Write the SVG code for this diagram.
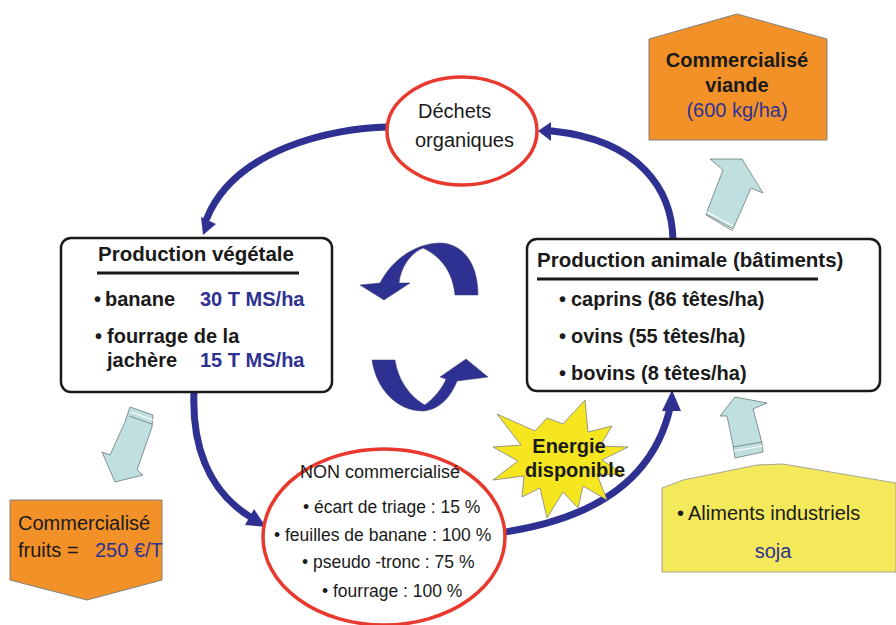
<svg xmlns="http://www.w3.org/2000/svg" width="896" height="625" viewBox="0 0 896 625">
<style>
text{font-family:"Liberation Sans",Arial,sans-serif;fill:#1a1a1a}
.b{font-weight:bold}
.t20{font-size:20px}
.blue{fill:#2e3192}
.box{fill:#fff;stroke:#1a1a1a;stroke-width:2.5}
.ell{fill:#fff;stroke:#e8392e;stroke-width:3.5}
.orange{fill:#f39129;stroke:#808080;stroke-width:1}
.lb{fill:#c0e0df;stroke:#6a7a7a;stroke-width:0.8}
.navy{fill:#2e3192}
.conn{fill:none;stroke:#2e3192;stroke-width:7;stroke-linecap:round}
.nc{font-size:17.5px}
</style>

<g id="connectors">
  <path class="conn" d="M388,127 C330,128 235,150 207,218"/>
  <polygon class="navy" points="203,235 216,224 201,217"/>
  <path class="conn" d="M673,240 C672,190 640,140 552,131"/>
  <polygon class="navy" points="538,131 551,122 551,141"/>
  <path class="conn" d="M194,392 C192,440 205,490 252,518"/>
  <polygon class="navy" points="266,527 245,525 254,509"/>
  <path class="conn" d="M505,532 C570,522 650,495 670,408"/>
  <polygon class="navy" points="672,390 662,411 681,411"/>
</g>

<g id="cycle-arrows">
  <path class="navy" stroke="#3a3a6a" stroke-width="0.5" d="M360,285 L384,300 L410,283 L399,283 C401,266 411,253 423,248 C444,258 453,275 455,295 L478,295 C478,262 462,244 441,243 C417,243 393,258 380,283 Z"/>
  <path class="navy" stroke="#3a3a6a" stroke-width="0.5" d="M372,360 L395,360 C398,380 410,397 425,405 C434,398 442,389 446,379 L440,377 L466,359 L488,377 L457,381 C451,397 439,410 423,411 C396,411 376,388 372,360 Z"/>
</g>

<g id="dechets">
  <ellipse class="ell" cx="462" cy="131" rx="75" ry="54"/>
  <text class="t20" x="418" y="118">Déchets</text>
  <text class="t20" x="415" y="147">organiques</text>
</g>

<g id="vente-viande">
  <polygon class="orange" points="649,39 737,14 827,39 827,140 649,140"/>
  <text class="t20 b" x="737" y="67" text-anchor="middle">Commercialisé</text>
  <text class="t20 b" x="737" y="92" text-anchor="middle">viande</text>
  <text class="t20 blue" x="737" y="117" text-anchor="middle">(600 kg/ha)</text>
</g>

<g id="fleche-viande">
  <polygon class="lb" points="710,159 742,159 763,193 751,188 733,229 706,214 723,170"/>
  <line x1="705" y1="211" x2="733" y2="226" stroke="#fff" stroke-width="1.2"/>
  <line x1="706" y1="215" x2="733" y2="231" stroke="#6a7a7a" stroke-width="0.8"/>
</g>

<g id="production-vegetale">
  <rect class="box" x="61" y="238" width="271" height="154" rx="10"/>
  <text class="t20 b" x="98" y="261" style="font-size:20.5px">Production végétale</text>
  <line x1="97" y1="273" x2="299" y2="273" stroke="#1a1a1a" stroke-width="3"/>
  <text class="t20 b" x="94" y="306">•<tspan x="105">banane</tspan><tspan class="blue" x="200">30 T MS/ha</tspan></text>
  <text class="t20 b" x="95" y="343">•<tspan x="107">fourrage de la</tspan></text>
  <text class="t20 b" x="107" y="367">jachère<tspan class="blue" x="200">15 T MS/ha</tspan></text>
</g>

<g id="production-animale">
  <rect class="box" x="527" y="239" width="353" height="152" rx="10"/>
  <text class="t20 b" x="537" y="267" style="font-size:20.5px">Production animale (bâtiments)</text>
  <line x1="537" y1="279" x2="818" y2="279" stroke="#1a1a1a" stroke-width="3"/>
  <text class="t20 b" x="559" y="306">•<tspan x="571">caprins (86 têtes/ha)</tspan></text>
  <text class="t20 b" x="559" y="343">•<tspan x="571">ovins (55 têtes/ha)</tspan></text>
  <text class="t20 b" x="559" y="380">•<tspan x="571">bovins (8 têtes/ha)</tspan></text>
</g>

<g id="fleche-fruits">
  <polygon class="lb" points="130,407 153,415 152,427 137,470 143,475 115,482 102,452 110,455 125,422"/>
  <line x1="131" y1="412" x2="153" y2="420" stroke="#fff" stroke-width="1.2"/>
  <line x1="129" y1="416" x2="152" y2="424" stroke="#6a7a7a" stroke-width="0.8"/>
</g>

<g id="vente-fruits">
  <polygon class="orange" points="10,500 162,500 162,580 87,600 10,580"/>
  <text class="t20" x="18" y="530">Commercialisé</text>
  <text class="t20" x="18" y="557">fruits =  <tspan class="blue" x="95">250 €/T</tspan></text>
</g>

<g id="non-commercialise">
  <ellipse class="ell" cx="384" cy="537" rx="121" ry="88"/>
  <text x="300" y="478" style="font-size:18px">NON commercialisé</text>
  <text class="nc" x="303" y="513">• écart de triage : 15 %</text>
  <text class="nc" x="274" y="541">• feuilles de banane : 100 %</text>
  <text class="nc" x="302" y="568">• pseudo -tronc : 75 %</text>
  <text class="nc" x="322" y="597">• fourrage : 100  %</text>
</g>

<g id="energie">
  <polygon fill="#f5e620" stroke="#808080" stroke-width="0.8" points="585,400 588,432 612,426 600,446 628,447 602,460 625,475 597,474 607,500 583,486 578,508 563,492 547,518 540,488 522,497 524,476 493,480 518,461 493,447 521,445 497,414 535,431 547,418 563,424"/>
  <text class="t20 b" x="569" y="453" text-anchor="middle">Energie</text>
  <text class="t20 b" x="575" y="477" text-anchor="middle">disponible</text>
</g>

<g id="fleche-aliments">
  <polygon class="lb" points="720,416 735,397 767,403 753,409 762,443 763,452 735,458 733,445 727,416"/>
  <line x1="733" y1="447" x2="762" y2="442" stroke="#6a7a7a" stroke-width="0.8"/>
  <line x1="734" y1="451" x2="763" y2="446" stroke="#fff" stroke-width="1.2"/>
</g>

<g id="aliments">
  <polygon fill="#f3e95b" stroke="#909090" stroke-width="0.8" points="662,488 683,480 757,465 783,464 896,483 896,572 662,572"/>
  <text class="t20" x="677" y="520">•<tspan x="688">Aliments industriels</tspan></text>
  <text class="t20 blue" x="773" y="558" text-anchor="middle">soja</text>
</g>
</svg>
